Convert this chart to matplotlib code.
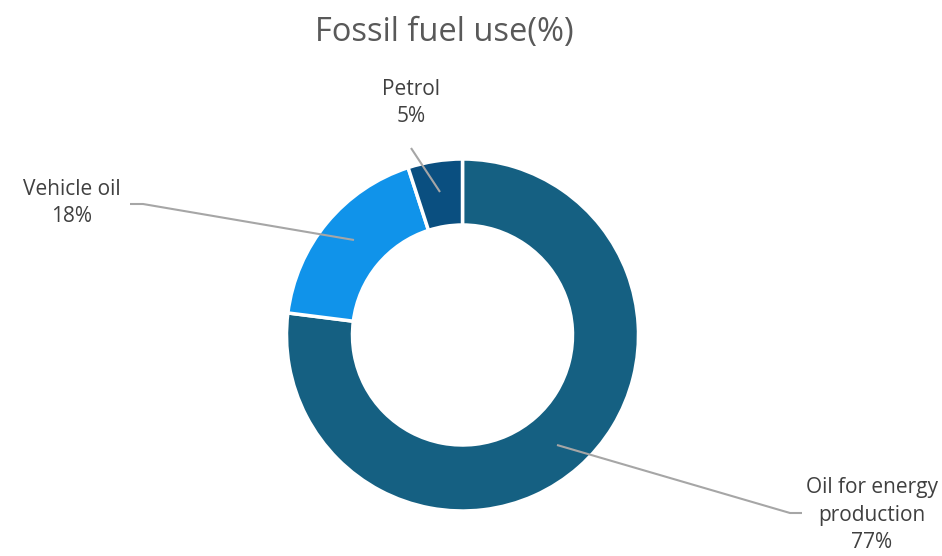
import matplotlib
matplotlib.use('Agg')
import matplotlib.pyplot as plt

plt.rcParams['font.family'] = ['Open Sans', 'DejaVu Sans']

# data
labels = ["Oil for energy\nproduction", "Vehicle oil", "Petrol"]
shares = [77, 18, 5]
colors = ["#156082", "#1093EA", "#0A4F80"]
title = "Fossil fuel use(%)"

W, H = 942, 556
fig = plt.figure(figsize=(W / 100, H / 100), dpi=100)
ax = fig.add_axes([0, 0, 1, 1])

cx, cy, R = 462.5, H - 335, 176
ax.pie(shares, colors=colors, startangle=90, counterclock=False,
       center=(cx, cy), radius=R,
       wedgeprops=dict(width=R * 0.375, edgecolor="white", linewidth=2.5))

ax.set_xlim(0, W)
ax.set_ylim(0, H)
ax.set_aspect("equal")
ax.axis("off")

def py(y):
    return H - y

# label text positions and leader lines (pixel coords)
label_pos = [(872, 515), (72, 203), (411, 103)]
leaders = [
    [(557, 445), (790, 513), (802, 513)],
    [(354, 240), (143, 204), (130, 204)],
    [(440, 192), (411, 148)],
]
for lab, s, (tx, ty), pts in zip(labels, shares, label_pos, leaders):
    ax.text(tx, py(ty), f"{lab}\n{s}%", ha="center", va="center",
            fontsize=15, color="#404040", linespacing=1.38)
    xs = [p[0] for p in pts]
    ys = [py(p[1]) for p in pts]
    ax.plot(xs, ys, color="#A6A6A6", lw=1.5, solid_capstyle="butt")

ax.text(444, py(32), title, ha="center", va="center",
        fontsize=23.5, color="#595959")

fig.savefig("out.png", dpi=100)
